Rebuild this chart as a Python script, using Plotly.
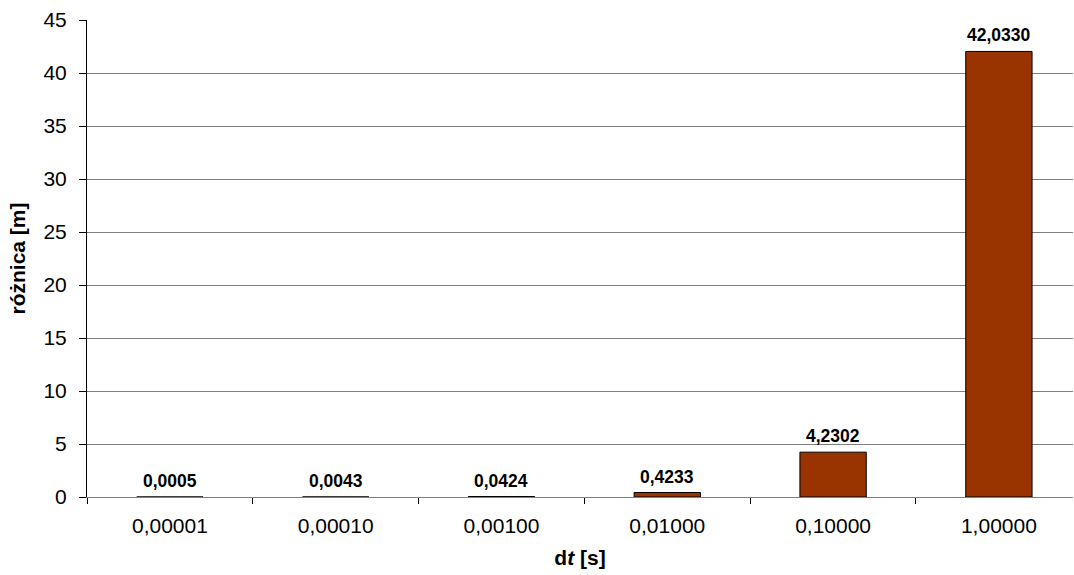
import plotly.graph_objects as go

# time step dt [s] and resulting difference [m]
dt_labels = ["0,00001", "0,00010", "0,00100", "0,01000", "0,10000", "1,00000"]
roznica = [0.0005, 0.0043, 0.0424, 0.4233, 4.2302, 42.0330]
value_labels = ["0,0005", "0,0043", "0,0424", "0,4233", "4,2302", "42,0330"]

FONT = "Liberation Sans, Arial"

fig = go.Figure(
    go.Bar(
        x=dt_labels,
        y=roznica,
        marker=dict(color="#993300", line=dict(color="#000000", width=1)),
        width=0.4,
    )
)

# value labels above each bar
for cat, val, lab in zip(dt_labels, roznica, value_labels):
    fig.add_annotation(
        x=cat, y=val, text=f"<b>{lab}</b>",
        showarrow=False, yanchor="bottom", yshift=4,
        font=dict(family=FONT, size=17.5, color="#000000"),
    )

fig.update_layout(
    width=1074,
    height=575,
    margin=dict(l=87, r=1, t=20, b=78),
    paper_bgcolor="white",
    plot_bgcolor="white",
    showlegend=False,
    font=dict(family=FONT, size=21, color="#000000"),
)

fig.update_xaxes(
    type="category",
    range=[-0.5, 5.447],
    tickson="boundaries",
    ticks="outside",
    ticklen=6,
    tickcolor="#000000",
    showline=True,
    linecolor="#808080",
    linewidth=1,
    showgrid=False,
    tickfont=dict(size=21),
    ticklabelstandoff=10,
    title=dict(text="<b>d<i>t</i> [s]</b>", font=dict(size=21), standoff=14),
)

fig.update_yaxes(
    range=[0, 45],
    dtick=5,
    ticks="outside",
    ticklen=7,
    tickcolor="#000000",
    showline=True,
    linecolor="#000000",
    linewidth=1,
    showgrid=True,
    gridcolor="#808080",
    gridwidth=1,
    zeroline=False,
    tickfont=dict(size=21),
    ticklabelstandoff=8,
    title=dict(text="<b>różnica [m]</b>", font=dict(size=21), standoff=12),
)

fig.write_html("out.html")
